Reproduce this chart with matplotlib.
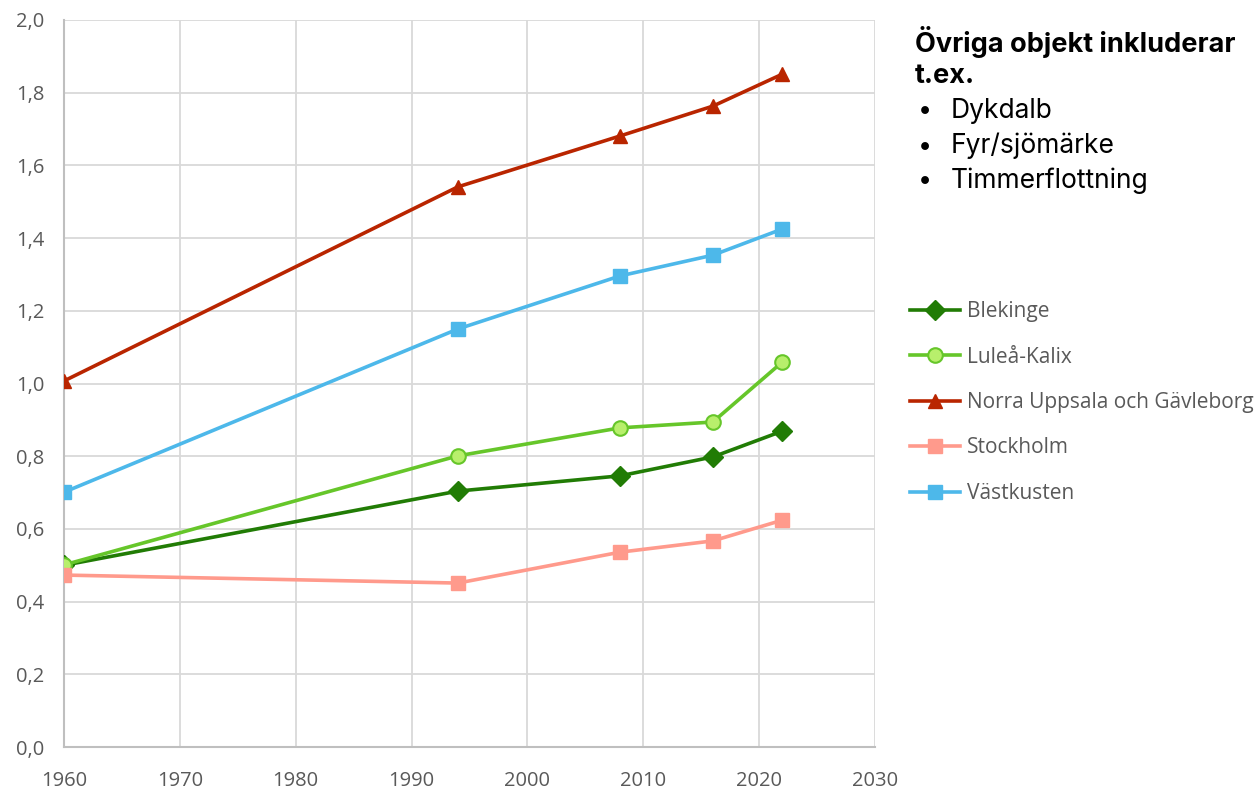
import matplotlib
matplotlib.use("Agg")
import matplotlib.pyplot as plt

years = [1960, 1994, 2008, 2016, 2022]
blekinge = [0.50, 0.704, 0.746, 0.798, 0.869]
lulea = [0.501, 0.801, 0.878, 0.894, 1.059]
norra = [1.007, 1.541, 1.681, 1.763, 1.851]
stockholm = [0.473, 0.451, 0.536, 0.567, 0.624]
vastkusten = [0.701, 1.150, 1.296, 1.353, 1.425]
names = ["Blekinge", "Luleå-Kalix", "Norra Uppsala och Gävleborg", "Stockholm", "Västkusten"]
xticks = [1960, 1970, 1980, 1990, 2000, 2010, 2020, 2030]
yticks = [0.0, 0.2, 0.4, 0.6, 0.8, 1.0, 1.2, 1.4, 1.6, 1.8, 2.0]

plt.rcParams['font.family'] = ['Open Sans', 'DejaVu Sans']

fig = plt.figure(figsize=(12.57, 7.9), dpi=100)
ax = fig.add_axes([64/1257, 43/790, (875-64)/1257, (747-20)/790])

lw = 2.6
ax.plot(years, blekinge, color='#217c05', lw=lw, marker='D', ms=10, mfc='#217c05', mec='#217c05', label=names[0], zorder=3)
ax.plot(years, lulea, color='#66c62a', lw=lw, marker='o', ms=10.5, mfc='#b8ef6c', mec='#66c62a', mew=1.5, label=names[1], zorder=3)
ax.plot(years, norra, color='#b92500', lw=lw, marker='^', ms=10.5, mfc='#b92500', mec='#b92500', label=names[2], zorder=3)
ax.plot(years, stockholm, color='#ff9a8c', lw=lw, marker='s', ms=10.5, mfc='#ff9a8c', mec='#ff9a8c', label=names[3], zorder=3)
ax.plot(years, vastkusten, color='#4db8ea', lw=lw, marker='s', ms=10.5, mfc='#4db8ea', mec='#4db8ea', label=names[4], zorder=3)

ax.set_xlim(1960, 2030)
ax.set_ylim(0, 2.0)
ax.set_xticks(xticks)
ax.set_yticks(yticks)
ax.set_yticklabels([f"{v:.1f}".replace('.', ',') for v in yticks])
ax.grid(True, color='#d9d9d9', lw=1.3, zorder=0)
ax.set_axisbelow(True)
for s in ['top', 'right']:
    ax.spines[s].set_visible(False)
for s in ['left', 'bottom']:
    ax.spines[s].set_color('#bfbfbf')
    ax.spines[s].set_linewidth(1.5)
ax.tick_params(axis='both', length=0, labelsize=14.5, labelcolor='#595959')
ax.tick_params(axis='y', pad=14)
ax.tick_params(axis='x', pad=17)

leg = fig.legend(loc='upper left', bbox_to_anchor=(902/1257, 1 - 293/790), frameon=False,
                 fontsize=15, labelcolor='#595959', handlelength=2.4, handletextpad=0.3,
                 labelspacing=1.17, borderaxespad=0)

fig.text(915/1257, 1 - 42/790, "Övriga objekt inkluderar", fontsize=19.5, fontweight='bold',
         family=['Inter', 'DejaVu Sans'], va='center', ha='left', color='black')
fig.text(915/1257, 1 - 76/790, "t.ex.", fontsize=19.5, fontweight='bold',
         family=['Inter', 'DejaVu Sans'], va='center', ha='left', color='black')
items = ["Dykdalb", "Fyr/sjömärke", "Timmerflottning"]
for i, it in enumerate(items):
    y = 1 - (111 + i * 35) / 790
    fig.text(918/1257, y, "•", fontsize=18, family=['Inter', 'DejaVu Sans'], va='center', ha='left')
    fig.text(951/1257, y, it, fontsize=19, family=['Inter', 'DejaVu Sans'], va='center', ha='left')

fig.savefig("out.png", dpi=100)
